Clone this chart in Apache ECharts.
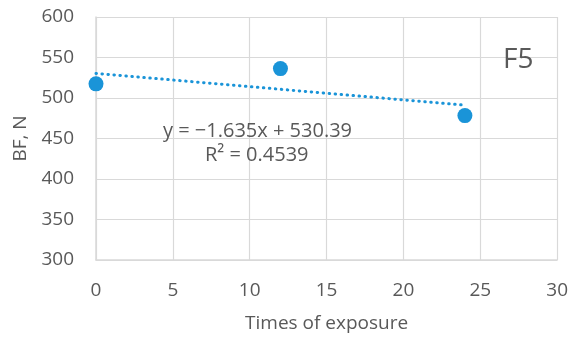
<!DOCTYPE html>
<html>
<head>
<meta charset="utf-8">
<script src="https://cdn.jsdelivr.net/npm/echarts@6/dist/echarts.min.js"></script>
<style>
html, body { margin: 0; padding: 0; background: #fff; }
#chart { width: 571px; height: 340px; }
</style>
</head>
<body>
<div id="chart"></div>
<script>
var exposureX = [0, 12, 24];
var bfValues = [517.5, 536.3, 478.3];
var trendX = [0, 24];
var trendY = [530.39, 491.15];
var equationText = 'y = \u22121.635x + 530.39';
var r2Text = 'R\u00b2 = 0.4539';
var panelLabel = 'F5';

var BLUE = '#1a94d8';
var GREY_TEXT = '#595959';
var GRID_LINE = '#d9d9d9';
var FONT = '"Open Sans", sans-serif';

var chart = echarts.init(document.getElementById('chart'));

var scatterData = exposureX.map(function (x, i) { return [x, bfValues[i]]; });
var trendData = trendX.map(function (x, i) { return [x, trendY[i]]; });

chart.setOption({
    animation: false,
    grid: { left: 96, right: 13, top: 17, bottom: 80 },
    xAxis: {
        type: 'value',
        min: 0, max: 30, interval: 5,
        name: 'Times of exposure',
        nameLocation: 'middle',
        nameGap: 54,
        nameTextStyle: { color: GREY_TEXT, fontSize: 19, fontFamily: FONT },
        axisLine: { show: true, lineStyle: { color: GRID_LINE, width: 1.5 } },
        axisTick: { show: false },
        axisLabel: { color: GREY_TEXT, fontSize: 19, fontFamily: FONT, margin: 21 },
        splitLine: { show: true, lineStyle: { color: GRID_LINE, width: 1.2 } }
    },
    yAxis: {
        type: 'value',
        min: 300, max: 600, interval: 50,
        name: 'BF, N',
        nameLocation: 'middle',
        nameGap: 66,
        nameTextStyle: { color: GREY_TEXT, fontSize: 19, fontFamily: FONT },
        axisLine: { show: true, lineStyle: { color: GRID_LINE, width: 1.5 } },
        axisTick: { show: false },
        axisLabel: { color: GREY_TEXT, fontSize: 19, fontFamily: FONT, margin: 22 },
        splitLine: { show: true, lineStyle: { color: GRID_LINE, width: 1.2 } }
    },
    series: [
        {
            type: 'line',
            data: trendData,
            symbol: 'none',
            z: 2,
            lineStyle: { color: BLUE, width: 3, type: [0.5, 5.5], cap: 'round' }
        },
        {
            type: 'scatter',
            data: scatterData,
            symbol: 'circle',
            symbolSize: 15,
            z: 3,
            itemStyle: { color: BLUE, opacity: 1 }
        }
    ],
    graphic: [
        {
            type: 'text', left: 163, top: 121, z: 10,
            style: { text: equationText, fill: GREY_TEXT, fontSize: 20, fontFamily: FONT }
        },
        {
            type: 'text', left: 205, top: 145, z: 10,
            style: { text: r2Text, fill: GREY_TEXT, fontSize: 20, fontFamily: FONT }
        },
        {
            type: 'text', left: 503, top: 46, z: 10,
            style: { text: panelLabel, fill: GREY_TEXT, fontSize: 28, fontFamily: FONT }
        }
    ]
});
</script>
</body>
</html>
